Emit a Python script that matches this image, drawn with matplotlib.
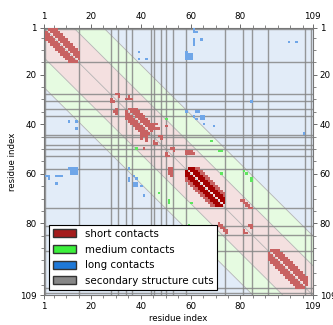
import numpy as np
import matplotlib
matplotlib.use("Agg")
import matplotlib.pyplot as plt
from matplotlib.patches import Patch

# Contact map of a 109 residue chain
n_res = 109
tick_vals = [1, 20, 40, 60, 80, 109]

# sequence separation limits of the background bands
short_max = 12
medium_max = 24

# helical stretches: start, end, max separation (light), max separation (dark core)
helix_start = [2, 34, 58, 91]
helix_end = [15, 44, 73, 106]
helix_light = [4, 4, 5, 4]
helix_dark = [0, 0, 3, 0]

# other contacts, (i, j) with i < j, shown on both sides of the diagonal
short_pairs = [
    (28, 30), (28, 31), (29, 31),
    (30, 34), (30, 35), (30, 36), (29, 35),
    (40, 45), (40, 46), (41, 45), (42, 45), (42, 46), (42, 47),
    (41, 50),
    (45, 47), (45, 48), (46, 48),
    (50, 52), (50, 53), (51, 53),
    (51, 58), (51, 59), (51, 60), (52, 58), (52, 59), (52, 60), (52, 61),
    (71, 80), (71, 81), (72, 81), (72, 82), (73, 82), (73, 83), (74, 83), (74, 84),
    (81, 83), (81, 84), (82, 84),
]
medium_pairs = [
    (38, 50), (47, 68), (51, 71), (51, 72), (60, 72),
    (59, 81), (60, 82), (62, 84), (63, 84),
]
long_pairs = [
    (2, 61), (3, 61), (3, 62), (6, 61), (7, 61), (8, 61), (6, 64),
    (11, 58), (12, 58), (13, 58), (14, 58), (12, 59), (13, 59), (14, 59),
    (12, 60), (13, 60), (14, 60),
    (7, 99), (7, 102), (31, 84), (35, 58), (35, 62), (35, 63),
    (37, 61), (38, 62), (37, 64), (37, 65), (38, 64), (38, 65),
    (40, 65), (41, 69), (44, 105), (11, 39), (14, 39), (14, 42),
]

# secondary structure cuts (residue positions)
cuts = [1.7, 15.0, 28.0, 30.8, 34.0, 36.5, 44.2, 45.3, 48.2, 50.0, 53.0,
        58.0, 73.8, 81.0, 84.8, 91.2, 106.0, 108.3]

c_short = "#a51c1c"
c_medium = "#3cf03c"
c_long = "#1e78d7"
c_cut = "#878787"

fig = plt.figure(figsize=(3.33, 3.25), dpi=100)
ax = fig.add_axes([0.131, 0.092, 0.808, 0.823])

# background bands
x = np.linspace(-30, 140, 400)
ax.fill_between(x, x - short_max, x + short_max, color="#f4e0e0", lw=0, zorder=0)
ax.fill_between(x, x - medium_max, x - short_max, color="#e6fbe1", lw=0, zorder=0)
ax.fill_between(x, x + short_max, x + medium_max, color="#e6fbe1", lw=0, zorder=0)
ax.fill_between(x, x - 300, x - medium_max, color="#e2ecf8", lw=0, zorder=0)
ax.fill_between(x, x + medium_max, x + 300, color="#e2ecf8", lw=0, zorder=0)
for off in [-medium_max, -short_max, 0, short_max, medium_max]:
    ax.plot(x, x + off, color="#b4b4b4", lw=0.6, zorder=1)

# secondary structure cuts
for c in cuts:
    ax.axvline(c, color=c_cut, lw=1.0, alpha=0.85, zorder=2)
    ax.axhline(c, color=c_cut, lw=1.0, alpha=0.85, zorder=2)

# contact image
img = np.zeros((n_res + 1, n_res + 1, 4))


def put(i, j, color):
    rgba = matplotlib.colors.to_rgba(color)
    img[i, j] = rgba
    img[j, i] = rgba


for s, e, wl, wd in zip(helix_start, helix_end, helix_light, helix_dark):
    for i in range(s, e + 1):
        for j in range(i + 1, min(i + wl, e) + 1):
            put(i, j, "#c86262")
        for j in range(i + 1, min(i + wd, e) + 1):
            put(i, j, "#a30000")
for i, j in short_pairs:
    put(i, j, "#c86262")
for i, j in medium_pairs:
    put(i, j, "#5ee65e")
for i, j in long_pairs:
    put(i, j, "#6fa6e8")

ax.imshow(img, extent=(-0.5, n_res + 0.5, n_res + 0.5, -0.5),
          interpolation="nearest", aspect="auto", zorder=3)

ax.set_xlim(1, n_res)
ax.set_ylim(n_res, 1)
ax.set_xticks(tick_vals)
ax.set_yticks(tick_vals)
ax.set_xticks(np.arange(5, n_res, 5), minor=True)
ax.set_yticks(np.arange(5, n_res, 5), minor=True)
ax.tick_params(which="both", top=True, right=True, labeltop=True,
               labelright=True, labelsize=6.3, color="#555555", pad=2)
ax.tick_params(which="major", length=3, width=0.6)
ax.tick_params(which="minor", length=2, width=0.5)
for sp in ax.spines.values():
    sp.set_color("#777777")
    sp.set_linewidth(0.8)
ax.set_xlabel("residue index", fontsize=6.2, labelpad=2)
ax.set_ylabel("residue index", fontsize=6.2, labelpad=2)

handles = [
    Patch(facecolor=c_short, edgecolor="#333333", label="short contacts"),
    Patch(facecolor=c_medium, edgecolor="#333333", label="medium contacts"),
    Patch(facecolor=c_long, edgecolor="#333333", label="long contacts"),
    Patch(facecolor=c_cut, edgecolor="#333333", label="secondary structure cuts"),
]
leg = ax.legend(handles=handles, loc="lower left", fontsize=7.4, fancybox=False,
                framealpha=1, edgecolor="black", borderaxespad=0.5,
                borderpad=0.4, handlelength=2.25, handleheight=0.8,
                handletextpad=0.85, labelspacing=0.55)
leg.get_frame().set_linewidth(0.8)
leg.set_zorder(10)

fig.savefig("out.png", dpi=100)
